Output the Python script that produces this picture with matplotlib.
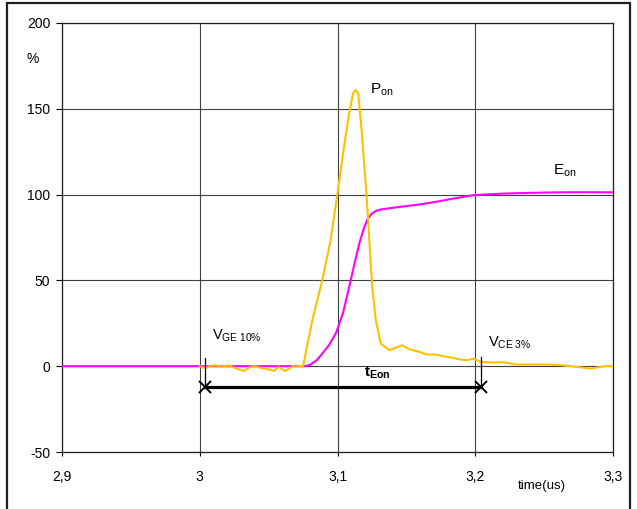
import numpy as np
import matplotlib
matplotlib.use("Agg")
import matplotlib.pyplot as plt
from matplotlib.patches import Rectangle

plt.rcParams['font.family'] = ['Liberation Sans', 'DejaVu Sans']
plt.rcParams['mathtext.fontset'] = 'custom'
plt.rcParams['mathtext.rm'] = 'Liberation Sans'
plt.rcParams['mathtext.it'] = 'Liberation Sans'
plt.rcParams['mathtext.bf'] = 'Liberation Sans:bold'
plt.rcParams['axes.unicode_minus'] = False

# P_on trace (% of peak scale), time in us
pon_t = [3.000, 3.004, 3.008, 3.0114, 3.016, 3.021, 3.026, 3.032, 3.037, 3.0405,
         3.045, 3.050, 3.054, 3.057, 3.062, 3.067, 3.0696, 3.073, 3.0750, 3.0817,
         3.0889, 3.0949, 3.0998, 3.1047, 3.1084, 3.1113, 3.1132, 3.1151, 3.1175, 3.1211,
         3.1234, 3.1253, 3.1278, 3.1314, 3.1375, 3.1415, 3.1467, 3.1527, 3.1588, 3.1649,
         3.1709, 3.177, 3.183, 3.189, 3.194, 3.1988, 3.2036, 3.2133, 3.2206, 3.2303,
         3.2424, 3.2521, 3.2618, 3.274, 3.2836, 3.2909, 3.2958, 3.3006]
pon_v = [0.0, -1.2, 0.3, 0.5, -0.3, 0.5, -1.2, -2.8, -0.3, 0.0,
         -1.2, -1.8, -2.8, -0.3, -2.8, -0.3, 0.5, 0.0, 0.0, 26.8,
         50.0, 73.0, 99.6, 127.8, 147.0, 159.0, 161.0, 159.0, 137.5, 99.6,
         69.5, 46.0, 26.8, 13.2, 9.3, 10.5, 12.2, 9.7, 8.5, 6.8,
         6.8, 5.8, 5.0, 3.9, 3.5, 4.4, 2.5, 2.1, 2.3, 1.0,
         1.0, 1.0, 0.6, -0.4, -1.4, -0.4, 0.2, 0.0]

# E_on trace
eon_t = [2.9, 3.0766, 3.080, 3.085, 3.089, 3.094, 3.099, 3.104, 3.109, 3.113,
         3.116, 3.119, 3.122, 3.125, 3.128, 3.131, 3.140, 3.150, 3.160, 3.173,
         3.185, 3.198, 3.210, 3.221, 3.240, 3.257, 3.280, 3.300]
eon_v = [0.0, 0.0, 0.8, 3.5, 7.4, 12.5, 19.5, 31.0, 48.0, 62.0,
         72.0, 80.0, 86.0, 89.0, 90.5, 91.3, 92.3, 93.3, 94.3, 96.0,
         97.8, 99.6, 100.2, 100.6, 101.0, 101.3, 101.4, 101.3]

x_ticks = [2.9, 3.0, 3.1, 3.2, 3.3]
x_labels = ['2,9', '3', '3,1', '3,2', '3,3']
y_ticks = [-50, 0, 50, 100, 150, 200]

# t_Eon interval (V_GE 10% -> V_CE 3%)
t_start = 3.0036
t_end = 3.2044
arrow_y = -12.2

fig = plt.figure(figsize=(6.37, 5.09), dpi=100)
ax = fig.add_axes([62 / 637, 1 - 452 / 509, (613 - 62) / 637, (452 - 23) / 509])

ax.plot(eon_t, eon_v, color='#FF00FF', lw=1.5, zorder=3)
ax.plot(pon_t, pon_v, color='#FFC000', lw=1.5, zorder=4)

# interval marker
ax.plot([t_start, t_end], [arrow_y, arrow_y], color='black', lw=2.3, zorder=5)
ax.plot([t_start, t_end], [arrow_y, arrow_y], ls='none', marker='x',
        ms=9, mew=1.4, color='black', zorder=6)
ax.plot([t_start, t_start], [4.7, arrow_y], color='black', lw=0.9, zorder=5)
ax.plot([t_end, t_end], [5.2, arrow_y], color='black', lw=0.9, zorder=5)

ax.text(3.1236, 161, r'P$_{\mathrm{on}}$', fontsize=11, va='center', ha='left')
ax.text(3.2567, 113.6, r'E$_{\mathrm{on}}$', fontsize=11, va='center', ha='left')
ax.text(3.0087, 17.5, r'V$_{\mathrm{GE\ 10\%}}$', fontsize=10.5, va='center', ha='left')
ax.text(3.2095, 13.7, r'V$_{\mathrm{CE\ 3\%}}$', fontsize=10.5, va='center', ha='left')
ax.text(3.1193, -4, r'$\mathbf{t_{Eon}}$', fontsize=11, va='center', ha='left')

ax.set_xlim(2.9, 3.3)
ax.set_ylim(-50, 200)
ax.set_xticks(x_ticks)
ax.set_xticklabels(x_labels)
ax.set_yticks(y_ticks)
ax.grid(True, color='#404040', lw=0.8)
ax.set_axisbelow(True)
for s in ax.spines.values():
    s.set_color('#202020')
    s.set_linewidth(0.9)
ax.tick_params(axis='y', direction='out', length=4.5, width=0.8, pad=4, labelsize=10)
ax.tick_params(axis='x', direction='out', length=3, width=0.8, pad=10, labelsize=10)

fig.text(33 / 637, 1 - 59 / 509, '%', fontsize=10, ha='center', va='center')
fig.text(542 / 637, 1 - 486 / 509, 'time(us)', fontsize=9.5, ha='center', va='center')

# outer chart frame
fig.patches.append(Rectangle((7 / 637, -0.05), (630 - 7) / 637, 1.05 - 3 / 509,
                             transform=fig.transFigure, fill=False,
                             edgecolor='#202020', lw=1.6))

fig.savefig('out.png', dpi=100)
